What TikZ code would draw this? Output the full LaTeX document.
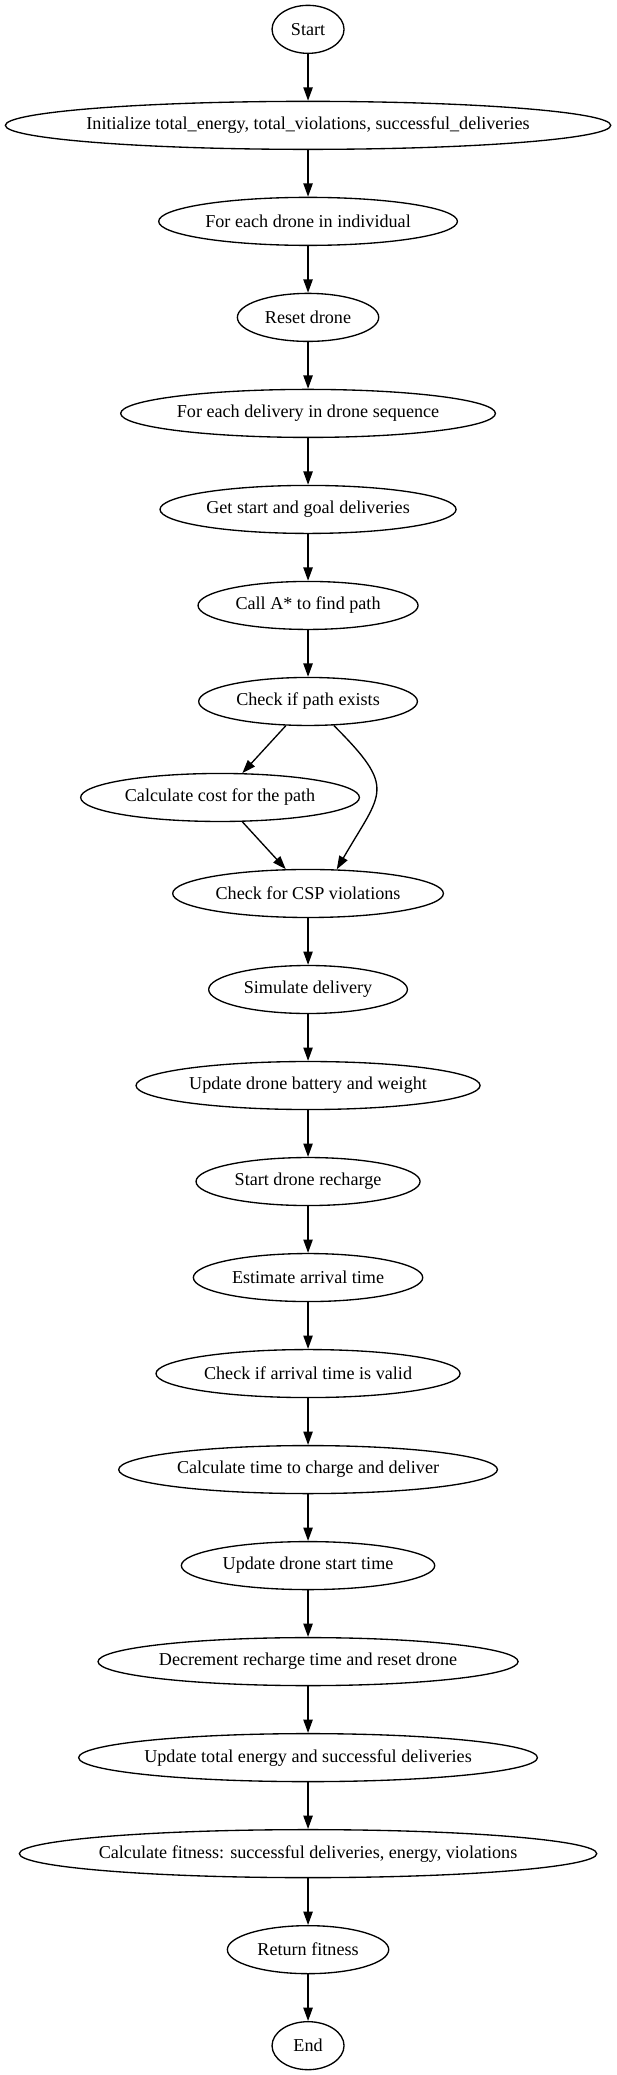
\documentclass[tikz,border=0pt]{standalone}
\usepackage{fontspec}
\setmainfont{Liberation Serif}
\usetikzlibrary{shapes.geometric,arrows.meta}
\newcommand{\gtxt}[1]{\makebox[0pt][c]{#1}}
\begin{document}
\begin{tikzpicture}[x=1pt,y=1pt,
  gnode/.style={draw,ellipse,line width=1pt,inner sep=0pt,minimum height=36pt,
    font=\fontsize{13.6}{16}\selectfont},
  garrow/.style={line width=1pt,-{Triangle[length=10pt,width=7pt]}}]
\useasboundingbox (0,0) rectangle (462,-1556);
\def\cx{231}
\node[gnode,minimum width=54pt]  (start) at (\cx,-22) {\gtxt{Start}};
\node[gnode,minimum width=454pt] (init)  at (\cx,-94) {\gtxt{Initialize total\_energy, total\_violations, successful\_deliveries}};
\node[gnode,minimum width=224pt] (drone) at (\cx,-166) {\gtxt{For each drone in individual}};
\node[gnode,minimum width=106pt] (reset) at (\cx,-238) {\gtxt{Reset drone}};
\node[gnode,minimum width=281pt] (deliv) at (\cx,-310) {\gtxt{For each delivery in drone sequence}};
\node[gnode,minimum width=222pt] (getsg) at (\cx,-382) {\gtxt{Get start and goal deliveries}};
\node[gnode,minimum width=165pt] (astar) at (\cx,-454) {\gtxt{Call A* to find path}};
\node[gnode,minimum width=164pt] (chk)   at (\cx,-526) {\gtxt{Check if path exists}};
\node[gnode,minimum width=209pt] (cost)  at (165,-598) {\gtxt{Calculate cost for the path}};
\node[gnode,minimum width=203pt] (csp)   at (\cx,-670) {\gtxt{Check for CSP violations}};
\node[gnode,minimum width=149pt] (sim)   at (\cx,-742) {\gtxt{Simulate delivery}};
\node[gnode,minimum width=258pt] (upd)   at (\cx,-814) {\gtxt{Update drone battery and weight}};
\node[gnode,minimum width=168pt] (rech)  at (\cx,-886) {\gtxt{Start drone recharge}};
\node[gnode,minimum width=172pt] (est)   at (\cx,-958) {\gtxt{Estimate arrival time}};
\node[gnode,minimum width=228pt] (valid) at (\cx,-1030) {\gtxt{Check if arrival time is valid}};
\node[gnode,minimum width=284pt] (calct) at (\cx,-1102) {\gtxt{Calculate time to charge and deliver}};
\node[gnode,minimum width=190pt] (upst)  at (\cx,-1174) {\gtxt{Update drone start time}};
\node[gnode,minimum width=315pt] (dec)   at (\cx,-1246) {\gtxt{Decrement recharge time and reset drone}};
\node[gnode,minimum width=344pt] (tot)   at (\cx,-1318) {\gtxt{Update total energy and successful deliveries}};
\node[gnode,minimum width=433pt] (fit)   at (\cx,-1390) {\gtxt{Calculate fitness: successful deliveries, energy, violations}};
\node[gnode,minimum width=121pt] (ret)   at (\cx,-1462) {\gtxt{Return fitness}};
\node[gnode,minimum width=54pt]  (end)   at (\cx,-1534) {\gtxt{End}};
\draw[garrow] (start) -- (init);
\draw[garrow] (init) -- (drone);
\draw[garrow] (drone) -- (reset);
\draw[garrow] (reset) -- (deliv);
\draw[garrow] (deliv) -- (getsg);
\draw[garrow] (getsg) -- (astar);
\draw[garrow] (astar) -- (chk);
\draw[garrow] (chk) -- (cost);
\draw[garrow] (chk.-43) to[out=-45,in=60,looseness=1.6] (csp.40);
\draw[garrow] (cost) -- (csp);
\draw[garrow] (csp) -- (sim);
\draw[garrow] (sim) -- (upd);
\draw[garrow] (upd) -- (rech);
\draw[garrow] (rech) -- (est);
\draw[garrow] (est) -- (valid);
\draw[garrow] (valid) -- (calct);
\draw[garrow] (calct) -- (upst);
\draw[garrow] (upst) -- (dec);
\draw[garrow] (dec) -- (tot);
\draw[garrow] (tot) -- (fit);
\draw[garrow] (fit) -- (ret);
\draw[garrow] (ret) -- (end);
\end{tikzpicture}
\end{document}
